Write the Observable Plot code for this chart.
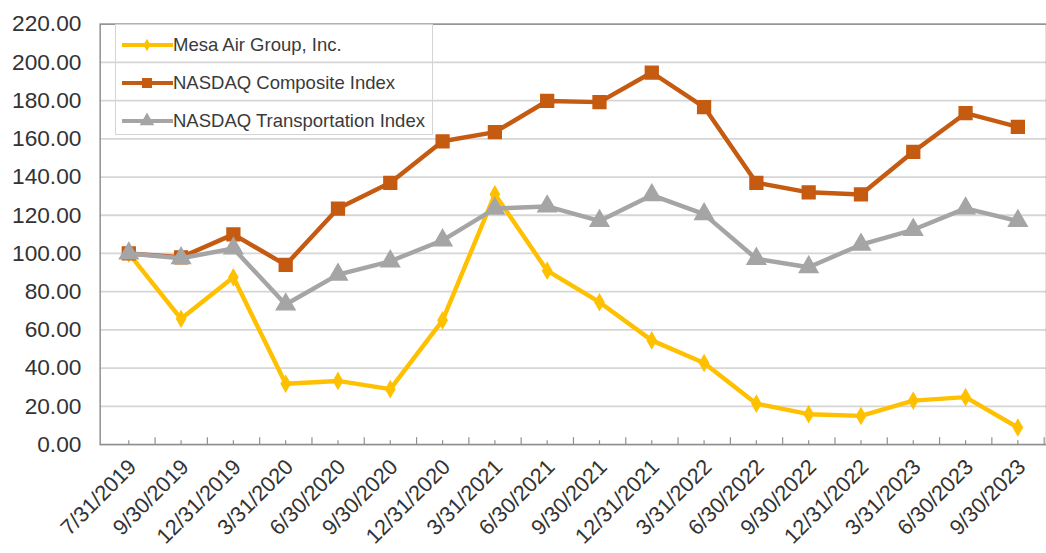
<!DOCTYPE html>
<html><head><meta charset="utf-8">
<script src="https://cdn.jsdelivr.net/npm/d3@7"></script>
<script src="https://cdn.jsdelivr.net/npm/@observablehq/plot@0.6"></script>
<style>
html,body{margin:0;padding:0;background:#fff;overflow:hidden;width:1046px;height:553px;}
#wrap{position:relative;width:1046px;height:553px;font-family:"Liberation Sans",Arial,sans-serif;}
#chart{position:absolute;left:0;top:0;}
#legend{position:absolute;left:115px;top:24px;width:318px;height:111px;border:1px solid #d4d4d4;box-sizing:border-box;}
.row{position:absolute;left:0;height:38px;display:flex;align-items:center;font-size:18.5px;color:#3a3a3a;white-space:nowrap;}
.row svg{display:block;}
</style></head><body><div id="wrap"><div id="chart"></div><div id="legend"></div></div>
<script>
const dates = ["7/31/2019","9/30/2019","12/31/2019","3/31/2020","6/30/2020","9/30/2020","12/31/2020","3/31/2021","6/30/2021","9/30/2021","12/31/2021","3/31/2022","6/30/2022","9/30/2022","12/31/2022","3/31/2023","6/30/2023","9/30/2023"];
const mesa = [100, 65.8, 87.5, 31.8, 33.3, 29.0, 65.0, 131.0, 91.0, 74.5, 54.5, 42.7, 21.4, 15.9, 15.0, 23.0, 24.8, 8.9];
const nasdaqComposite = [100, 98.0, 110.0, 94.0, 123.5, 137.0, 158.7, 163.5, 179.8, 179.2, 194.7, 176.6, 137.0, 132.0, 130.9, 153.2, 173.4, 166.2];
const nasdaqTransportation = [100, 97.5, 102.6, 73.3, 88.9, 95.9, 106.9, 123.5, 124.6, 117.0, 130.5, 120.6, 97.2, 92.8, 104.6, 112.4, 123.6, 117.0];
const seriesNames = ["Mesa Air Group, Inc.", "NASDAQ Composite Index", "NASDAQ Transportation Index"];
const yTicks = [0,20,40,60,80,100,120,140,160,180,200,220];

const seriesStyle = [
  {name: seriesNames[0], values: mesa, color: "#FFC000", symbol: "diamond", r: 4.8},
  {name: seriesNames[1], values: nasdaqComposite, color: "#C55A11", symbol: "square", r: 7.3},
  {name: seriesNames[2], values: nasdaqTransportation, color: "#A5A5A5", symbol: "triangle", r: 7}
];

const W = 1060, ML = 101;
const step = (W - ML) / dates.length;

const marks = [
  Plot.gridY(yTicks, {stroke: "#d6d6d6", strokeOpacity: 1, strokeWidth: 1.8}),
  Plot.frame({stroke: "#8f8f8f", strokeWidth: 1.5}),
  Plot.ruleX(dates, {x: d => d, y1: 0, y2: 2, stroke: "#8f8f8f", strokeWidth: 1.2}),
  Plot.ruleX(dates, {x: d => d, dx: step / 2, y1: 0, y2: 3.6, stroke: "#8f8f8f", strokeWidth: 1.2}),
  Plot.axisY(yTicks, {label: null, tickSize: 0, tickPadding: 19, tickFormat: d => d.toFixed(2), fontSize: 23, fill: "#333"}),
  Plot.axisX({label: null, tickSize: 0, tickRotate: -45, tickPadding: 19, dx: 4, fontSize: 22, fill: "#333"})
];
for (const s of seriesStyle) {
  const rows = s.values.map((v, i) => ({date: dates[i], value: v}));
  marks.push(Plot.line(rows, {x: "date", y: "value", stroke: s.color, strokeWidth: 4.5}));
  marks.push(Plot.dot(rows, {x: "date", y: "value", symbol: () => s.symbol, fill: s.color, stroke: s.color, r: s.r}));
}

const chart = Plot.plot({
  width: W, height: 553,
  marginLeft: ML, marginRight: 0, marginTop: 24, marginBottom: 103,
  style: {fontFamily: '"Liberation Sans", Arial, sans-serif', fontSize: "21px", color: "#333", background: "transparent", overflow: "visible"},
  x: {type: "point", domain: dates, padding: 0.5, axis: null},
  y: {domain: [0, 220], axis: null},
  symbol: {type: "identity"},
  marks
});
document.getElementById("chart").appendChild(chart);

// legend
const legend = document.getElementById("legend");
const symMap = {diamond: d3.symbolDiamond, square: d3.symbolSquare, triangle: d3.symbolTriangle};
seriesStyle.forEach((s, i) => {
  const row = document.createElement("div");
  row.className = "row";
  row.style.top = (1 + i * 38) + "px";
  const sw = d3.create("svg").attr("width", 57).attr("height", 38);
  sw.append("line").attr("x1", 6).attr("x2", 57).attr("y1", 19).attr("y2", 19).attr("stroke", s.color).attr("stroke-width", 4);
  sw.append("path").attr("transform", "translate(31,19)").attr("d", d3.symbol(symMap[s.symbol], Math.PI * s.r * s.r * 0.6)()).attr("fill", s.color);
  row.appendChild(sw.node());
  const t = document.createElement("span");
  t.textContent = s.name;
  row.appendChild(t);
  legend.appendChild(row);
});
</script>
</body></html>
